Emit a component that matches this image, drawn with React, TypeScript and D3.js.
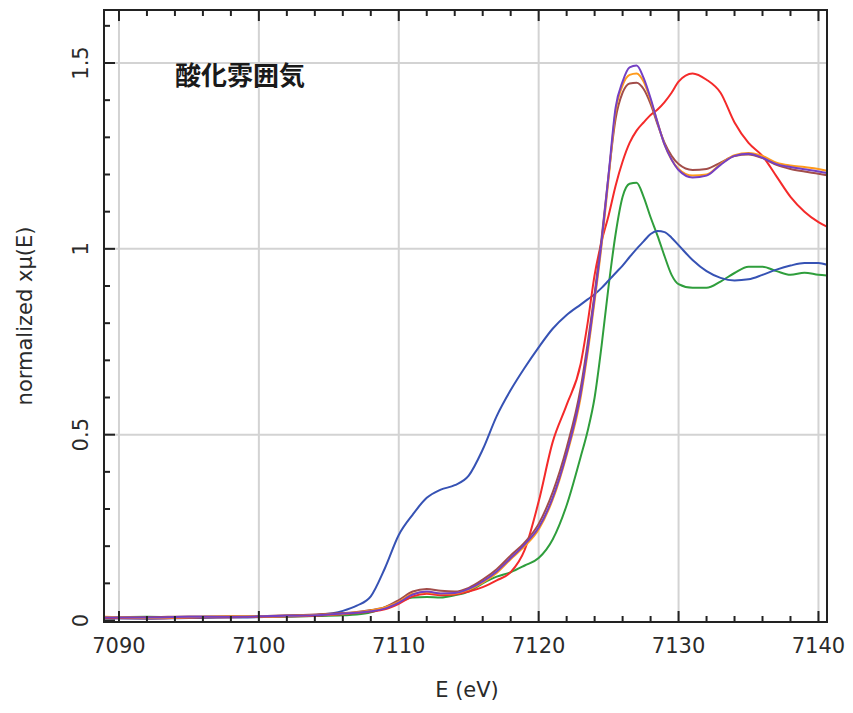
import { useEffect, useRef } from 'react';
import * as d3 from 'd3';

const WIDTH = 853;
const HEIGHT = 713;

const TITLE = '酸化雰囲気';
const X_LABEL = 'E (eV)';
const Y_LABEL = 'normalized xμ(E)';

const X_TICKS = [7090, 7100, 7110, 7120, 7130, 7140];
const Y_TICKS = [0, 0.5, 1, 1.5];
const Y_TICK_LABELS = ['0', '0.5', '1', '1.5'];

// photon energy (eV) shared by all spectra
const ENERGY = [
  7089, 7092, 7095, 7098, 7101, 7104,
  7106, 7107, 7108, 7109, 7110, 7111, 7112, 7113, 7114, 7115, 7116, 7117, 7118, 7119, 7120, 7121, 7122, 7123,
  7123.5, 7124, 7124.5, 7125, 7125.5, 7126, 7126.5, 7127, 7127.5, 7128, 7128.5, 7129, 7129.5, 7130,
  7131, 7132, 7133, 7134, 7135, 7136, 7137, 7138, 7139, 7140, 7140.6,
];

const BLUE = [
  0.006, 0.005, 0.007, 0.008, 0.01, 0.015,
  0.026, 0.04, 0.065, 0.14, 0.23, 0.285, 0.33, 0.352, 0.364, 0.39, 0.46, 0.55, 0.62, 0.68, 0.735, 0.785, 0.822, 0.85,
  0.864, 0.878, 0.895, 0.915, 0.935, 0.955, 0.978, 1.0, 1.02, 1.04, 1.048, 1.045, 1.03, 1.01,
  0.97, 0.94, 0.922, 0.915, 0.918, 0.93, 0.944, 0.955, 0.962, 0.962, 0.957,
];

const GREEN = [
  0.008, 0.01, 0.008, 0.01, 0.01, 0.012,
  0.014, 0.016, 0.022, 0.035, 0.05, 0.062, 0.063, 0.062, 0.068, 0.078, 0.1, 0.118, 0.13, 0.148, 0.168, 0.218, 0.31, 0.44,
  0.51, 0.6, 0.74, 0.9, 1.04, 1.14, 1.175, 1.178, 1.14, 1.085, 1.035, 0.98, 0.93, 0.905,
  0.895, 0.895, 0.912, 0.935, 0.952, 0.952, 0.94, 0.93, 0.936, 0.93, 0.928,
];

const RED = [
  0.007, 0.006, 0.008, 0.009, 0.011, 0.013,
  0.017, 0.02, 0.024, 0.03, 0.045, 0.065, 0.072, 0.068, 0.07, 0.078, 0.09, 0.108, 0.13, 0.19, 0.32, 0.48, 0.58, 0.69,
  0.8, 0.93, 1.02, 1.09, 1.17, 1.235, 1.285, 1.318, 1.34, 1.36, 1.375, 1.395, 1.42, 1.45,
  1.472, 1.455, 1.42, 1.34, 1.285, 1.25, 1.195, 1.14, 1.1, 1.072, 1.06,
];

const BROWN = [
  0.009, 0.009, 0.011, 0.01, 0.013, 0.016,
  0.02, 0.023, 0.028, 0.036, 0.055, 0.078, 0.085, 0.08, 0.078, 0.088, 0.11, 0.138, 0.175, 0.21, 0.26, 0.345, 0.465, 0.625,
  0.745, 0.88, 1.03, 1.2, 1.35, 1.42, 1.445, 1.447, 1.43, 1.39, 1.335, 1.285, 1.25, 1.228,
  1.212, 1.215, 1.232, 1.25, 1.254, 1.244, 1.226, 1.215, 1.208, 1.202, 1.198,
];

const ORANGE = [
  0.01, 0.007, 0.009, 0.012, 0.011, 0.015,
  0.018, 0.022, 0.027, 0.035, 0.05, 0.072, 0.076, 0.072, 0.073, 0.083, 0.102, 0.128, 0.165, 0.2, 0.245, 0.325, 0.445, 0.6,
  0.72, 0.86, 1.01, 1.19, 1.37, 1.44, 1.468, 1.472, 1.45, 1.4, 1.34, 1.28, 1.24, 1.215,
  1.197, 1.2, 1.228, 1.252, 1.258, 1.25, 1.232, 1.224, 1.22, 1.215, 1.21,
];

const PURPLE = [
  0.008, 0.008, 0.01, 0.01, 0.012, 0.014,
  0.019, 0.021, 0.025, 0.032, 0.048, 0.07, 0.078, 0.073, 0.074, 0.085, 0.105, 0.132, 0.168, 0.205, 0.25, 0.33, 0.45, 0.61,
  0.73, 0.87, 1.02, 1.2, 1.38, 1.45, 1.488, 1.493, 1.46, 1.405, 1.34, 1.28, 1.24, 1.212,
  1.192, 1.197, 1.226, 1.25, 1.256, 1.245, 1.228, 1.22, 1.214, 1.208, 1.204,
];

const SERIES = [
  { name: 'green', values: GREEN, color: '#2f9e3c' },
  { name: 'blue', values: BLUE, color: '#3652b4' },
  { name: 'red', values: RED, color: '#f42a2a' },
  { name: 'brown', values: BROWN, color: '#a24d4a' },
  { name: 'orange', values: ORANGE, color: '#ff9a1c' },
  { name: 'purple', values: PURPLE, color: '#7440c4' },
];

const FRAME = { left: 104, top: 10, right: 827, bottom: 622 };

export default function App() {
  const svgRef = useRef<SVGSVGElement>(null);

  useEffect(() => {
    if (!svgRef.current) return;
    const svg = d3.select(svgRef.current);
    svg.selectAll('*').remove();

    const x = d3.scaleLinear().domain([7088.93, 7140.61]).range([FRAME.left, FRAME.right]);
    const y = d3.scaleLinear().domain([-0.004, 1.6426]).range([FRAME.bottom, FRAME.top]);

    const font = '"DejaVu Sans", sans-serif';

    // grid
    const grid = svg.append('g').attr('stroke', '#d3d3d3').attr('stroke-width', 2);
    grid.selectAll('line.gx').data(X_TICKS).join('line')
      .attr('class', 'gx')
      .attr('x1', d => x(d)).attr('x2', d => x(d))
      .attr('y1', FRAME.top).attr('y2', FRAME.bottom);
    grid.selectAll('line.gy').data(Y_TICKS.filter(d => d > 0)).join('line')
      .attr('class', 'gy')
      .attr('x1', FRAME.left).attr('x2', FRAME.right)
      .attr('y1', d => y(d)).attr('y2', d => y(d));

    // spectra
    const line = d3.line<number>()
      .x((_, i) => x(ENERGY[i]))
      .y(d => y(d))
      .curve(d3.curveMonotoneX);

    svg.append('g').selectAll('path').data(SERIES).join('path')
      .attr('d', d => line(d.values))
      .attr('fill', 'none')
      .attr('stroke', d => d.color)
      .attr('stroke-width', 2)
      .attr('stroke-linejoin', 'round');

    // ticks
    const xMinor = d3.range(7090, 7141, 2);
    const yMinor = d3.range(0, 17).map(i => i / 10);
    const ticks = svg.append('g').attr('stroke', '#222').attr('stroke-width', 2);
    const isMajorX = (d: number) => X_TICKS.includes(d);
    const isMajorY = (d: number) => Y_TICKS.some(t => Math.abs(t - d) < 1e-6);

    ticks.selectAll('line.bt').data(xMinor).join('line')
      .attr('class', 'bt')
      .attr('x1', d => x(d)).attr('x2', d => x(d))
      .attr('y1', FRAME.bottom).attr('y2', d => FRAME.bottom - (isMajorX(d) ? 11 : 6));
    ticks.selectAll('line.tt').data(xMinor).join('line')
      .attr('class', 'tt')
      .attr('x1', d => x(d)).attr('x2', d => x(d))
      .attr('y1', FRAME.top).attr('y2', d => FRAME.top + (isMajorX(d) ? 11 : 6));
    ticks.selectAll('line.lt').data(yMinor).join('line')
      .attr('class', 'lt')
      .attr('x1', FRAME.left).attr('x2', d => FRAME.left + (isMajorY(d) ? 11 : 6))
      .attr('y1', d => y(d)).attr('y2', d => y(d));

    // frame
    svg.append('rect')
      .attr('x', FRAME.left).attr('y', FRAME.top)
      .attr('width', FRAME.right - FRAME.left).attr('height', FRAME.bottom - FRAME.top)
      .attr('fill', 'none').attr('stroke', '#222').attr('stroke-width', 2);

    // tick labels
    svg.append('g').selectAll('text').data(X_TICKS).join('text')
      .attr('x', d => x(d)).attr('y', 653)
      .attr('text-anchor', 'middle')
      .attr('font-family', font).attr('font-size', 21).attr('fill', '#2a2a2a')
      .text(d => String(d));

    svg.append('g').selectAll('text').data(Y_TICKS).join('text')
      .attr('transform', d => `translate(88,${y(d)}) rotate(-90)`)
      .attr('text-anchor', 'middle')
      .attr('font-family', font).attr('font-size', 21).attr('fill', '#2a2a2a')
      .text((_, i) => Y_TICK_LABELS[i]);

    // axis titles
    svg.append('text')
      .attr('x', 467).attr('y', 697)
      .attr('text-anchor', 'middle')
      .attr('font-family', font).attr('font-size', 21).attr('fill', '#2a2a2a')
      .text(X_LABEL);

    svg.append('text')
      .attr('transform', 'translate(32,316) rotate(-90)')
      .attr('text-anchor', 'middle')
      .attr('font-family', font).attr('font-size', 21).attr('fill', '#2a2a2a')
      .text(Y_LABEL);

    svg.append('text')
      .attr('x', 175).attr('y', 85)
      .attr('font-family', '"Noto Sans CJK JP", sans-serif')
      .attr('font-size', 26).attr('font-weight', 700).attr('fill', '#1a1a1a')
      .text(TITLE);
  }, []);

  return (
    <svg
      ref={svgRef}
      width={WIDTH}
      height={HEIGHT}
      style={{ position: 'absolute', left: 0, top: 0, background: '#fff' }}
    />
  );
}
